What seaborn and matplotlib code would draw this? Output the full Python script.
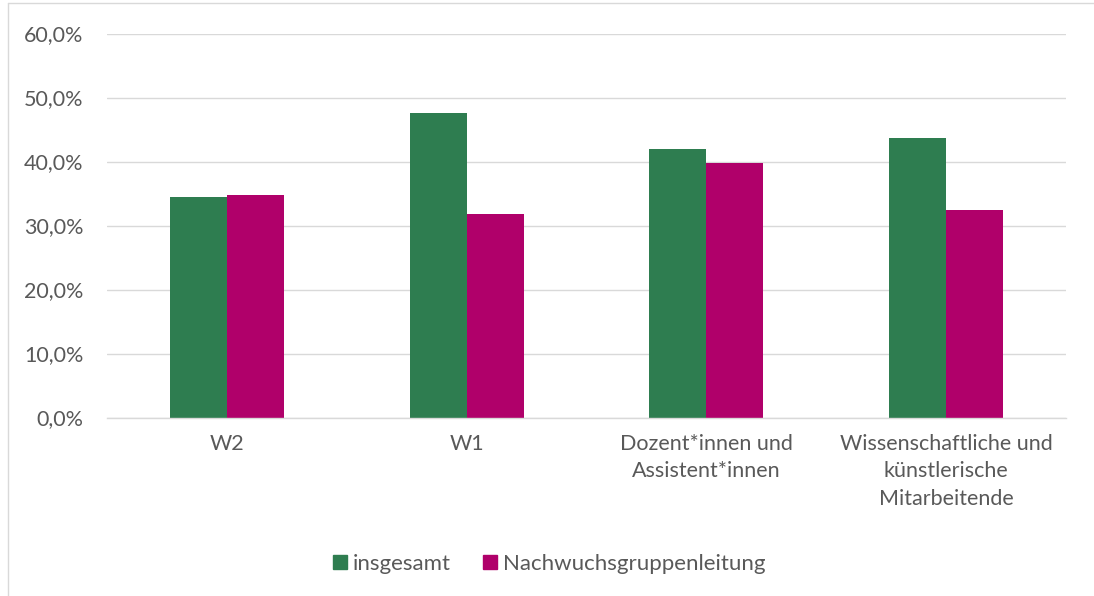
import matplotlib
matplotlib.use('Agg')
import matplotlib.pyplot as plt
import matplotlib.ticker as mticker
from matplotlib.lines import Line2D
import seaborn as sns
import pandas as pd

categories = ['W2', 'W1', 'Dozent*innen und\nAssistent*innen',
              'Wissenschaftliche und\nkünstlerische\nMitarbeitende']
series = ['insgesamt', 'Nachwuchsgruppenleitung']
insgesamt = [34.4, 47.6, 42.0, 43.6]
nachwuchs = [34.8, 31.8, 39.8, 32.4]
colors = ['#2E7D50', '#B0006A']

df = pd.DataFrame({
    'Kategorie': categories * 2,
    'Gruppe': [series[0]] * 4 + [series[1]] * 4,
    'Wert': insgesamt + nachwuchs,
})

sns.set_theme(style='white')
plt.rcParams['font.family'] = ['Lato', 'DejaVu Sans']
text_color = '#595959'
fs = 15.5

fig = plt.figure(figsize=(10.94, 5.96), dpi=100)
ax = fig.add_axes([107 / 1094, 1 - 417.5 / 596, (1066 - 107) / 1094, (417.5 - 33.5) / 596])

sns.barplot(data=df, x='Kategorie', y='Wert', hue='Gruppe',
            palette=colors, width=0.475, saturation=1, ax=ax,
            edgecolor='none', legend=False)

ax.set_ylim(0, 60)
ax.set_xlim(-0.5, 3.5)
ax.yaxis.set_major_locator(mticker.MultipleLocator(10))
ax.yaxis.set_major_formatter(mticker.FuncFormatter(lambda v, p: f'{v:.1f}%'.replace('.', ',')))
ax.grid(axis='y', color='#D9D9D9', linewidth=1)
ax.set_axisbelow(True)
for s in ['top', 'right', 'left']:
    ax.spines[s].set_visible(False)
ax.spines['bottom'].set_color('#D9D9D9')
ax.spines['bottom'].set_linewidth(1)
ax.set_xlabel('')
ax.set_ylabel('')
ax.tick_params(axis='y', length=0, pad=17, labelsize=fs, labelcolor=text_color)
ax.tick_params(axis='x', length=0, pad=12, labelsize=fs, labelcolor=text_color)
for lbl in ax.get_xticklabels():
    lbl.set_verticalalignment('top')
    lbl.set_linespacing(1.45)

handles = [Line2D([], [], marker='s', linestyle='none', markersize=10,
                  markerfacecolor=c, markeredgecolor=c) for c in colors]
fig.legend(handles, series, loc='center', bbox_to_anchor=(0.5, 1 - 564 / 596),
           ncol=2, frameon=False, fontsize=16, labelcolor=text_color,
           handletextpad=0.05, columnspacing=1.3, handlelength=1.0)

# chart border (left and top)
fig.add_artist(Line2D([8 / 1094, 8 / 1094], [0, 1 - 3 / 596], transform=fig.transFigure,
                      color='#D9D9D9', linewidth=1))
fig.add_artist(Line2D([8 / 1094, 1], [1 - 3 / 596, 1 - 3 / 596], transform=fig.transFigure,
                      color='#D9D9D9', linewidth=1))

fig.savefig('out.png', dpi=100)
